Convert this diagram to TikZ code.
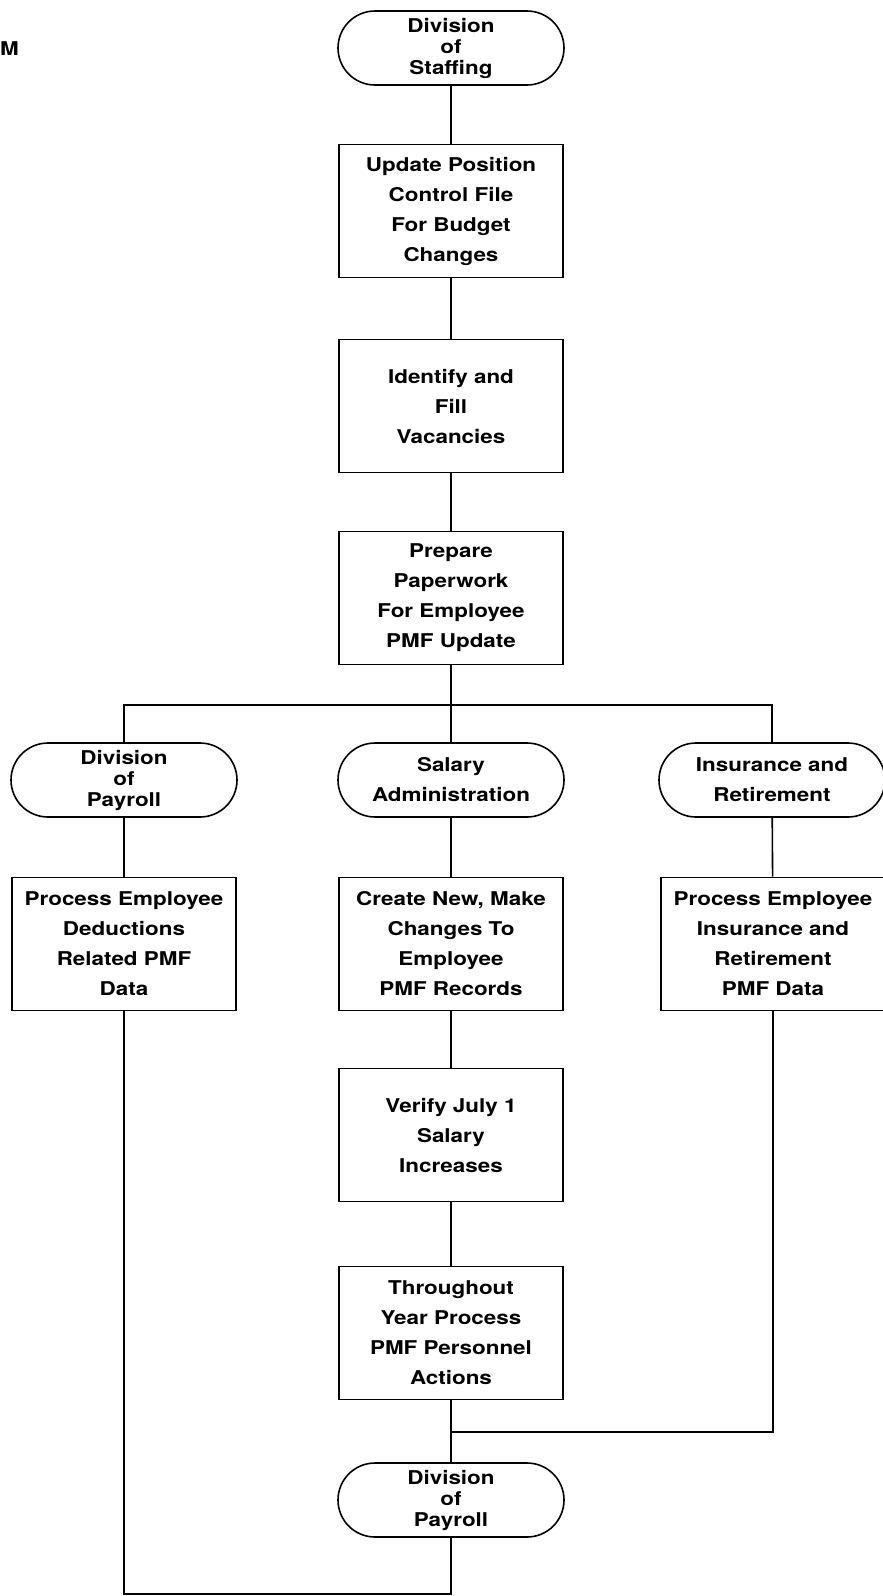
\documentclass[tikz,border=0pt]{standalone}
\usepackage{fontspec}
\setmainfont[FakeStretch=1.18]{TeX Gyre Heros}
\usetikzlibrary{positioning}
\tikzset{
  proc/.style={draw, line width=1.6pt, minimum width=224pt, minimum height=133pt,
    align=center, inner sep=2pt, font=\bfseries\fontsize{19}{30}\selectfont},
  term/.style={draw, line width=1.6pt, rounded corners=37pt, minimum width=226pt,
    minimum height=74pt, align=center, inner sep=1pt, font=\bfseries\fontsize{19}{21}\selectfont},
  termwide/.style={term, font=\bfseries\fontsize{19}{30}\selectfont},
  link/.style={line width=1.6pt}
}
\begin{document}
\begin{tikzpicture}[x=1pt, y=-1pt]
  \useasboundingbox (0,0) rectangle (883,1596);
  \node[font=\bfseries\fontsize{19}{19}\selectfont, anchor=west, inner sep=0pt] (corner) at (0,49) {M};

  % main column
  \node[term] (staff) at (451,48) {Division\\of\\Staffing};
  \node[proc] (upd) at (451,211) {Update Position\\Control File\\For Budget\\Changes};
  \node[proc] (ident) at (451,406) {Identify and\\Fill\\Vacancies};
  \node[proc] (prep) at (451,598) {Prepare\\Paperwork\\For Employee\\PMF Update};

  % three branches
  \node[term] (payA) at (124,780) {Division\\of\\Payroll};
  \node[termwide] (sal) at (451,780) {Salary\\Administration};
  \node[termwide] (ins) at (772,780) {Insurance and\\Retirement};
  \node[proc] (ded) at (124,944) {Process Employee\\Deductions\\Related PMF\\Data};
  \node[proc] (create) at (451,944) {Create New, Make\\Changes To\\Employee\\PMF Records};
  \node[proc] (insproc) at (773,944) {Process Employee\\Insurance and\\Retirement\\PMF Data};
  \node[proc] (verify) at (451,1135) {Verify July 1\\Salary\\Increases};
  \node[proc] (thru) at (451,1333) {Throughout\\Year Process\\PMF Personnel\\Actions};
  \node[term] (payB) at (451,1500) {Division\\of\\Payroll};

  \coordinate (bus) at (451,705);
  \coordinate (join) at (451,1432);
  \coordinate (loop) at (451,1594);

  \draw[link] (staff) -- (upd);
  \draw[link] (upd) -- (ident);
  \draw[link] (ident) -- (prep);
  \draw[link] (prep) -- (bus);
  \draw[link] (payA) |- (bus) -| (ins);
  \draw[link] (bus) -- (sal);
  \draw[link] (payA) -- (ded);
  \draw[link] (sal) -- (create);
  \draw[link] (ins) -- (insproc);
  \draw[link] (create) -- (verify);
  \draw[link] (verify) -- (thru);
  \draw[link] (thru) -- (payB);
  \draw[link] (insproc) |- (join);
  \draw[link] (ded) |- (loop) -- (payB);
\end{tikzpicture}
\end{document}
